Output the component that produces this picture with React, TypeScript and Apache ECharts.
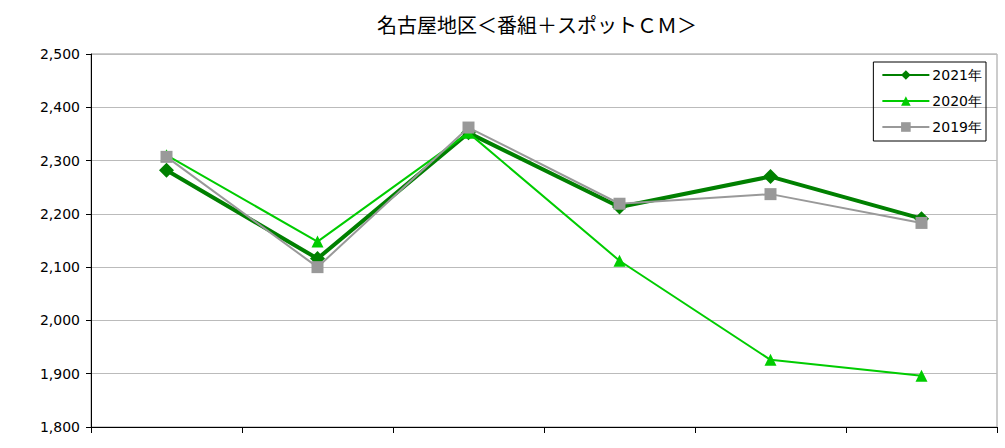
import React, { useEffect, useRef } from "react";
import * as echarts from "echarts";

const categories = ["1", "2", "3", "4", "5", "6"];
const s2021 = [2282, 2116, 2352, 2213, 2270, 2191];
const s2020 = [2310, 2148, 2352, 2112, 1926, 1896];
const s2019 = [2307, 2100, 2362, 2219, 2237, 2183];
const titleText = "名古屋地区＜番組＋スポットＣＭ＞";

export default function App() {
  const ref = useRef<HTMLDivElement>(null);
  useEffect(() => {
    const chart = echarts.init(ref.current!, null, { renderer: "svg" });
    chart.setOption({
      animation: false,
      backgroundColor: "#fff",
      title: {
        text: titleText,
        left: 532,
        top: 9,
        textAlign: "center",
        textStyle: { fontFamily: "Noto Sans CJK JP", fontSize: 20, fontWeight: "normal", color: "#000" },
      },
      legend: {
        orient: "vertical",
        right: 19,
        top: 62,
        padding: [6, 4, 7, 8],
        itemGap: 12,
        itemWidth: 47,
        itemHeight: 12,
        borderColor: "#000",
        borderWidth: 1,
        textStyle: { fontFamily: "DejaVu Sans", fontSize: 14, color: "#000", padding: [0, 0, 0, -2] },
        data: ["2021年", "2020年", "2019年"],
      },
      grid: { left: 91, right: 8, top: 54, bottom: 21, show: true, borderColor: "#999", borderWidth: 1 },
      xAxis: {
        type: "category",
        data: categories,
        boundaryGap: true,
        axisLine: { lineStyle: { color: "#000", width: 1 } },
        axisTick: { show: true, alignWithLabel: false, length: 6, lineStyle: { color: "#000" } },
        axisLabel: { show: false },
        splitLine: { show: false },
      },
      yAxis: {
        type: "value",
        min: 1800,
        max: 2500,
        interval: 100,
        axisLine: { show: true, lineStyle: { color: "#000", width: 1 } },
        axisTick: { show: true, inside: false, length: 5, lineStyle: { color: "#000" } },
        axisLabel: {
          fontFamily: "DejaVu Sans",
          fontSize: 14,
          color: "#000",
          margin: 11,
          formatter: (v: number) => v.toLocaleString("en-US"),
        },
        splitLine: { show: true, lineStyle: { color: "#bbb", width: 1 } },
      },
      series: [
        {
          name: "2021年",
          type: "line",
          data: s2021,
          symbol: "diamond",
          symbolSize: 15,
          lineStyle: { color: "#008000", width: 4 },
          itemStyle: { color: "#008000" },
          z: 2,
        },
        {
          name: "2020年",
          type: "line",
          data: s2020,
          symbol: "triangle",
          symbolSize: 12,
          lineStyle: { color: "#00cc00", width: 2 },
          itemStyle: { color: "#00cc00" },
          z: 3,
        },
        {
          name: "2019年",
          type: "line",
          data: s2019,
          symbol: "rect",
          symbolSize: 12,
          lineStyle: { color: "#999999", width: 2 },
          itemStyle: { color: "#999999" },
          z: 4,
        },
      ],
    });
    return () => chart.dispose();
  }, []);
  return <div ref={ref} style={{ width: 1005, height: 448, position: "absolute", left: 0, top: 0 }} />;
}
